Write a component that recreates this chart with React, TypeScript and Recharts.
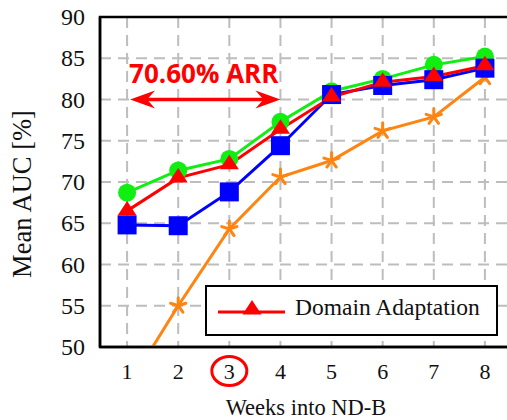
import React from 'react';
import {
  LineChart, Line, XAxis, YAxis, CartesianGrid, ReferenceLine, ReferenceArea, Legend
} from 'recharts';

const weeks = [1, 2, 3, 4, 5, 6, 7, 8];
const baselineAuc = [45.0, 55.0, 64.3, 70.6, 72.6, 76.2, 77.9, 82.7];
const upperAuc = [68.7, 71.4, 72.8, 77.3, 81.0, 82.5, 84.2, 85.2];
const squareAuc = [64.8, 64.7, 68.8, 74.4, 80.6, 81.7, 82.4, 83.8];
const domainAdaptAuc = [66.5, 70.5, 72.1, 76.4, 80.3, 82.1, 82.8, 84.1];
const yTicks = [50, 55, 60, 65, 70, 75, 80, 85, 90];
const arrLabel = '70.60% ARR';
const arrFrom = 1;
const arrTo = 4;
const arrLevel = 80;
const highlightWeek = 3;

const data = weeks.map((w, i) => ({
  week: w,
  baseline: baselineAuc[i],
  upper: upperAuc[i],
  square: squareAuc[i],
  da: domainAdaptAuc[i],
}));

const SERIF = '"Liberation Serif", "Times New Roman", serif';
const GREEN = '#11ee11';
const RED = '#ff0000';
const BLUE = '#0000ff';
const ORANGE = '#ff8410';

const triPoints = (cx: number, cy: number) =>
  `${cx},${cy - 10} ${cx - 9.5},${cy + 4.5} ${cx + 9.5},${cy + 4.5}`;

const CircleDot = (p: any) => (
  <circle key={p.index} cx={p.cx} cy={p.cy} r={9} fill={GREEN} />
);
const SquareDot = (p: any) => (
  <rect key={p.index} x={p.cx - 9.5} y={p.cy - 9.5} width={19} height={19} fill={BLUE} />
);
const TriangleDot = (p: any) => (
  <polygon key={p.index} points={triPoints(p.cx, p.cy)} fill={RED} />
);
const StarDot = (p: any) => {
  const r = 8;
  const arms = [0, 1, 2, 3, 4].map((k) => {
    const a = (-90 + 72 * k) * (Math.PI / 180);
    return (
      <line key={k} x1={p.cx} y1={p.cy} x2={p.cx + r * Math.cos(a)} y2={p.cy + r * Math.sin(a)}
        stroke={ORANGE} strokeWidth={3} strokeLinecap="round" />
    );
  });
  return <g key={p.index}>{arms}</g>;
};

const WeekTick = (props: any) => {
  const { x, y, payload } = props;
  return (
    <g>
      {payload.value === highlightWeek && (
        <ellipse cx={x} cy={y + 22} rx={17.5} ry={14.5} fill="none" stroke={RED} strokeWidth={3} />
      )}
      <text x={x} y={y + 30} textAnchor="middle" fontFamily={SERIF} fontSize={22} fill="#111">
        {payload.value}
      </text>
    </g>
  );
};

const AucTick = (props: any) => {
  const { x, y, payload } = props;
  return (
    <text x={x - 13} y={y + 8} textAnchor="end" fontFamily={SERIF} fontSize={24} fill="#111">
      {payload.value}
    </text>
  );
};

const ArrArrow = (props: any) => {
  const { x1, y1, x2, y2 } = props;
  const head = (tip: number, dir: number) =>
    `${tip},${y1} ${tip + dir * 25},${y1 - 9} ${tip + dir * 17},${y1} ${tip + dir * 25},${y1 + 9}`;
  return (
    <g>
      <line x1={x1 + 15} y1={y1} x2={x2 - 15} y2={y2} stroke={RED} strokeWidth={3.5} />
      <polygon points={head(x1 + 3, 1)} fill={RED} />
      <polygon points={head(x2, -1)} fill={RED} />
      <text x={(x1 + x2) / 2} y={y1 - 17} textAnchor="middle" fontFamily='"Open Sans", sans-serif'
        fontWeight={700} fontSize={26} fill={RED}>
        {arrLabel}
      </text>
    </g>
  );
};

const LegendBox = (props: any) => {
  const items = (props.payload || []).filter((e: any) => e.type !== 'none');
  return (
    <div style={{
      boxSizing: 'border-box', width: 293, height: 51, border: '2.5px solid #000',
      background: '#fff', position: 'relative',
    }}>
      {items.map((e: any) => (
        <div key={e.value} style={{ position: 'absolute', left: 0, top: 0, width: '100%', height: '100%' }}>
          <svg width={90} height={46} style={{ position: 'absolute', left: 0, top: 0 }}>
            <line x1={11} y1={25} x2={78} y2={25} stroke={RED} strokeWidth={3} />
            <polygon points={triPoints(45, 23)} fill={RED} />
          </svg>
          <span style={{
            position: 'absolute', left: 88, top: 7, fontFamily: SERIF, fontSize: 23.5,
            color: '#111', whiteSpace: 'nowrap', lineHeight: '27px',
          }}>
            {e.value}
          </span>
        </div>
      ))}
    </div>
  );
};

export default function App() {
  return (
    <div style={{ position: 'absolute', left: 0, top: 0, width: 507, height: 420, overflow: 'hidden', background: '#fff' }}>
      <LineChart width={520} height={420} data={data} margin={{ top: 17, right: 8, left: 0, bottom: 0 }}>
        <CartesianGrid stroke="#bdbdbd" strokeWidth={2} strokeDasharray="11 7" />
        <XAxis
          dataKey="week" type="number" domain={[0.47, 8.53]} ticks={weeks} allowDataOverflow
          height={73} tickLine={false} tickSize={0} axisLine={{ stroke: '#000', strokeWidth: 2.5 }}
          tick={<WeekTick />} interval={0}
          label={{
            content: (p: any) => {
              const vb = p.viewBox || { x: 100, y: 347, width: 412, height: 73 };
              return (
                <text x={vb.x + vb.width / 2} y={vb.y + 68} textAnchor="middle" fontFamily={SERIF}
                  fontSize={22.5} fill="#111">
                  Weeks into ND-B
                </text>
              );
            },
          }}
        />
        <YAxis
          type="number" domain={[50, 90]} ticks={yTicks} allowDataOverflow width={100}
          tickLine={false} tickSize={0} axisLine={{ stroke: '#000', strokeWidth: 2.5 }}
          tick={<AucTick />} interval={0}
          label={{
            content: (p: any) => {
              const vb = p.viewBox || { x: 0, y: 17, width: 100, height: 330 };
              const cx = vb.x + 31;
              const cy = vb.y + vb.height / 2 + 12;
              return (
                <text transform={`translate(${cx},${cy}) rotate(-90)`} textAnchor="middle"
                  fontFamily={SERIF} fontSize={26.5} fill="#111">
                  Mean AUC [%]
                </text>
              );
            },
          }}
        />
        <ReferenceArea x1={0.47} x2={8.53} y1={50} y2={90} fill="none" stroke="#000" strokeWidth={2.5} />
        <Line dataKey="baseline" stroke={ORANGE} strokeWidth={3} dot={<StarDot />} legendType="none"
          isAnimationActive={false} />
        <Line dataKey="upper" stroke={GREEN} strokeWidth={3} dot={<CircleDot />} legendType="none"
          isAnimationActive={false} />
        <Line dataKey="square" stroke={BLUE} strokeWidth={3} dot={<SquareDot />} legendType="none"
          isAnimationActive={false} />
        <Line dataKey="da" name="Domain Adaptation" stroke={RED} strokeWidth={3} dot={<TriangleDot />}
          legendType="triangle" isAnimationActive={false} />
        <ReferenceLine
          segment={[{ x: arrFrom, y: arrLevel }, { x: arrTo, y: arrLevel }]}
          shape={<ArrArrow />}
          ifOverflow="visible"
        />
        <Legend
          layout="vertical" align="center" verticalAlign="middle"
          wrapperStyle={{ left: 205, top: 285, width: 293, height: 51 }}
          content={<LegendBox />}
        />
      </LineChart>
    </div>
  );
}
